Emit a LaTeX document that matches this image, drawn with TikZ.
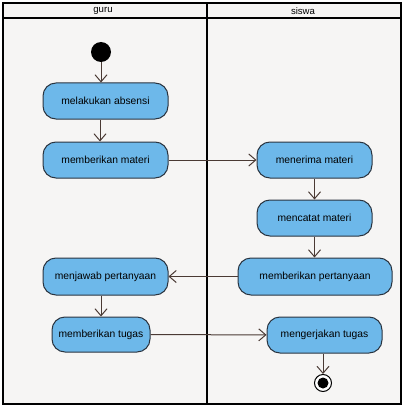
\documentclass[tikz,border=0pt]{standalone}
\usepackage{fontspec}
\setmainfont{Liberation Sans}
\usetikzlibrary{arrows.meta}
\definecolor{nodefill}{HTML}{6DB8EA}
\definecolor{nodeline}{HTML}{2A3440}
\definecolor{arrowcol}{HTML}{4A3A34}
\definecolor{bgcol}{HTML}{F6F5F4}
\begin{document}
\begin{tikzpicture}[x=1pt,y=-1pt,
  act/.style={draw=nodeline,line width=1pt,fill=nodefill,rounded corners=13pt,
    inner sep=0pt,font=\fontsize{10.3}{12}\selectfont},
  flow/.style={draw=arrowcol,line width=1pt,-{Straight Barb[length=7pt,width=12pt,line width=1pt]}},
  lane/.style={draw=black,line width=1.6pt},
  head/.style={font=\fontsize{9.6}{12}\selectfont,inner sep=0pt}]
\useasboundingbox (0,0) rectangle (407,409);
\fill[white] (0,0) rectangle (407,409);
\fill[bgcol] (3,3) rectangle (401,404);
% swimlanes
\draw[lane] (3,3) rectangle (401,404);
\draw[lane] (3,18) -- (401,18);
\draw[lane] (207,3) -- (207,404);
\node[head] (hguru) at (103,11) {guru};
\node[head] (hsiswa) at (303,11) {siswa};
% nodes
\node[circle,fill=black,minimum size=20pt,inner sep=0pt] (start) at (101,52) {};
\node[act,minimum width=125pt,minimum height=36pt] (absen) at (105.5,101) {melakukan absensi};
\node[act,minimum width=125pt,minimum height=36pt] (materi) at (105.5,160) {memberikan materi};
\node[act,minimum width=115pt,minimum height=36pt] (terima) at (314.5,160) {menerima materi};
\node[act,minimum width=115pt,minimum height=36pt] (catat) at (314.5,218) {mencatat materi};
\node[act,minimum width=154pt,minimum height=37pt] (tanya) at (315,276.5) {memberikan pertanyaan};
\node[act,minimum width=125pt,minimum height=37pt] (jawab) at (105.5,276.5) {menjawab pertanyaan};
\node[act,minimum width=98pt,minimum height=35pt] (tugas) at (101,334.5) {memberikan tugas};
\node[act,minimum width=115pt,minimum height=36pt] (kerja) at (324.5,335) {mengerjakan tugas};
\node[circle,draw=black,line width=1pt,fill=white,minimum size=17pt,inner sep=0pt] (end) at (323,383) {};
\node[circle,fill=black,minimum size=11pt,inner sep=0pt] (endin) at (323,383) {};
% flows
\draw[flow] (start.south) -- (absen.north -| start);
\draw[flow] (absen.south -| 100,0) -- (materi.north -| 100,0);
\draw[flow] (materi) -- (terima);
\draw[flow] (terima) -- (catat);
\draw[flow] (catat) -- (tanya.north -| catat);
\draw[flow] (tanya) -- (jawab);
\draw[flow] (jawab.south -| tugas) -- (tugas);
\draw[flow] (tugas) -- (kerja);
\draw[flow] (kerja.south -| end) -- (end);
\end{tikzpicture}
\end{document}
